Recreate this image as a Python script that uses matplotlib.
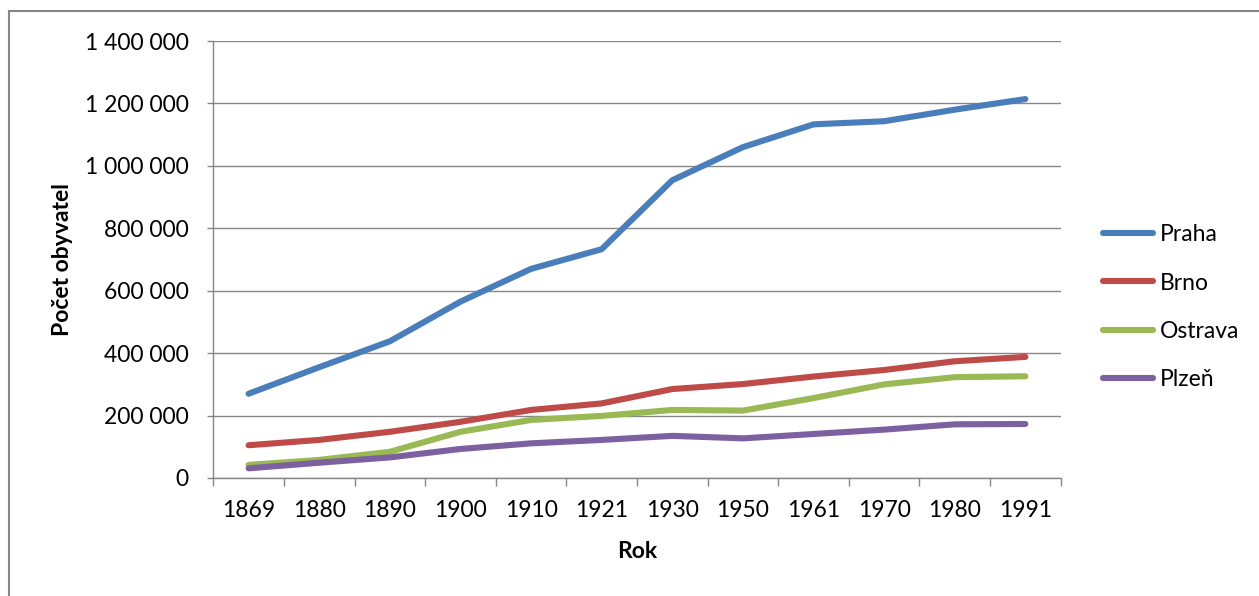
import matplotlib
matplotlib.use("Agg")
import matplotlib.pyplot as plt
from matplotlib.patches import Rectangle
from matplotlib.ticker import FuncFormatter, FixedLocator

years = ["1869", "1880", "1890", "1900", "1910", "1921", "1930", "1950", "1961", "1970", "1980", "1991"]
praha = [270000, 355000, 438000, 565000, 670000, 733000, 954000, 1060000, 1133000, 1143000, 1180000, 1214000]
brno = [105000, 122000, 148000, 180000, 218000, 239000, 285000, 301000, 325000, 346000, 374000, 388000]
ostrava = [42000, 58000, 84000, 148000, 186000, 199000, 218000, 216000, 256000, 300000, 323000, 326000]
plzen = [31000, 49000, 66000, 93000, 111000, 122000, 135000, 127000, 141000, 155000, 172000, 173000]
series_names = ["Praha", "Brno", "Ostrava", "Plzeň"]
colors = ["#4A7EBB", "#BE4B48", "#98B954", "#7D60A0"]

W, H = 1259, 596
FS = 16.5
plt.rcParams['font.family'] = ['Lato', 'DejaVu Sans']
fig = plt.figure(figsize=(W / 100, H / 100), dpi=100)
fig.patch.set_facecolor("white")

# outer chart border
fig.patches.append(Rectangle((9 / W, -0.01), 1.2, (H - 11) / H + 0.01, transform=fig.transFigure,
                             fill=False, edgecolor="#868686", linewidth=1.5))

left, right, top, bottom = 213.3, 1060.7, 41, 478
ax = fig.add_axes([left / W, (H - bottom) / H, (right - left) / W, (bottom - top) / H])

x = list(range(len(years)))
for vals, name, c in zip([praha, brno, ostrava, plzen], series_names, colors):
    ax.plot(x, vals, color=c, linewidth=4.4, label=name, solid_capstyle="round",
            solid_joinstyle="round")

ax.set_xlim(-0.5, len(years) - 0.5)
ax.set_ylim(0, 1400000)
ax.set_yticks(range(0, 1400001, 200000))
ax.yaxis.set_major_formatter(FuncFormatter(lambda v, p: f"{int(v):,}".replace(",", " ")))
ax.grid(axis="y", color="#868686", linewidth=1.0)
ax.set_axisbelow(True)

ax.set_xticks(x)
ax.set_xticklabels(years)
ax.xaxis.set_minor_locator(FixedLocator([i - 0.5 for i in range(len(years) + 1)]))
ax.tick_params(axis="x", which="major", length=0, pad=16, labelsize=FS)
ax.tick_params(axis="x", which="minor", length=5.5, width=1.0, color="#868686", direction="out")
ax.tick_params(axis="y", which="major", length=4.5, width=1.0, color="#868686", pad=13, labelsize=FS)

for s in ["top", "right"]:
    ax.spines[s].set_visible(False)
for s in ["left", "bottom"]:
    ax.spines[s].set_color("#868686")
    ax.spines[s].set_linewidth(1.0)

ax.set_xlabel("Rok", fontsize=FS, fontweight="bold", labelpad=14)
ax.set_ylabel("Počet obyvatel", fontsize=FS, fontweight="bold", labelpad=9)

leg = fig.legend(loc="upper left", bbox_to_anchor=(1103 / W, 1 - 224 / H), frameon=False,
                 fontsize=FS, handlelength=2.2, handletextpad=0.3, labelspacing=1.2,
                 borderaxespad=0, borderpad=0)

fig.savefig("out.png", dpi=100)
